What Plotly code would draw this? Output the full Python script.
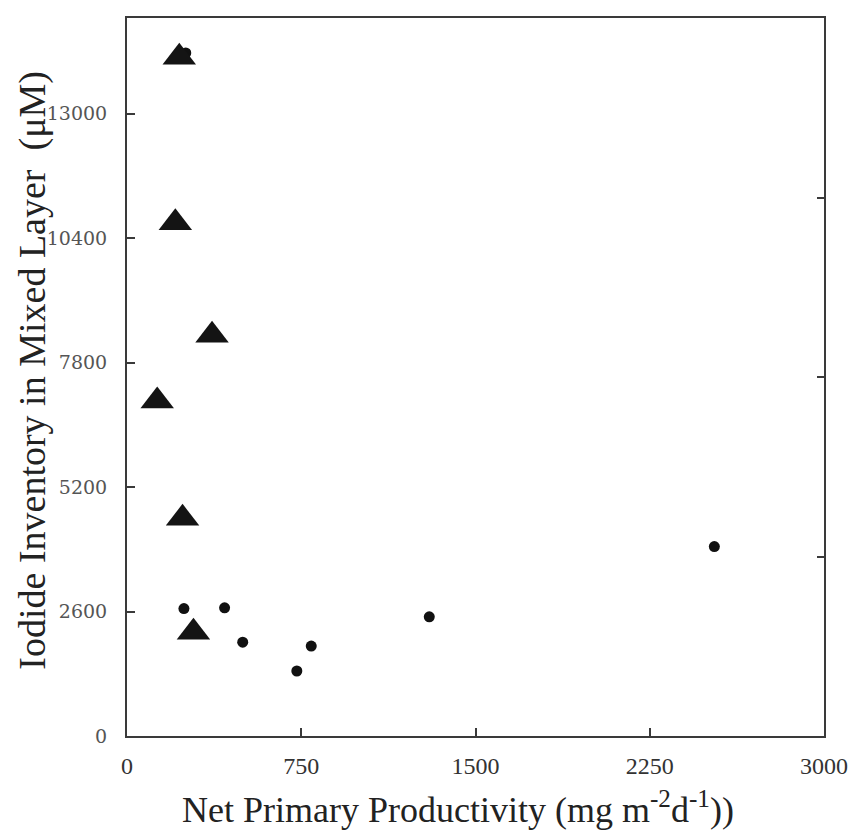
import plotly.graph_objects as go

# Triangles series
tri_x = [225, 208, 366, 130, 239, 286]
tri_y = [14181, 10724, 8374, 7001, 4547, 2165]

# Circles series
circ_x = [253, 245, 420, 498, 731, 793, 1301, 2528]
circ_y = [14269, 2662, 2677, 1961, 1358, 1878, 2490, 3958]

x_ticks = [0, 750, 1500, 2250, 3000]
y_ticks = [0, 2600, 5200, 7800, 10400, 13000]
y2_ticks = [3750, 7500, 11250]

x_title = "Net Primary Productivity (mg m<sup>-2</sup>d<sup>-1</sup>))"
y_title = "Iodide Inventory in Mixed Layer\u00a0\u00a0(\u03bcM)"

line_col = "#3a3a3a"

fig = go.Figure()
fig.add_trace(go.Scatter(
    x=circ_x, y=circ_y, mode="markers",
    marker=dict(symbol="circle", size=11, color="#111111"),
    showlegend=False, hoverinfo="x+y"))
fig.add_trace(go.Scatter(
    x=tri_x, y=tri_y, mode="markers",
    marker=dict(symbol="triangle-up", size=29, color="#141414"),
    showlegend=False, hoverinfo="x+y"))
# secondary axis carrier (invisible)
fig.add_trace(go.Scatter(
    x=circ_x, y=circ_y, mode="markers", yaxis="y2",
    marker=dict(size=1, opacity=0), showlegend=False, hoverinfo="skip"))

fig.update_layout(
    width=848, height=822,
    margin=dict(l=119, r=27, t=8, b=94),
    paper_bgcolor="white", plot_bgcolor="white",
    font=dict(family="Liberation Serif", color="#222"),
    xaxis=dict(
        range=[0, 3000], tickvals=x_ticks, ticktext=[str(v) for v in x_ticks],
        ticks="inside", ticklen=8, tickwidth=2, tickcolor=line_col,
        showline=True, linecolor=line_col, linewidth=2, mirror=True,
        showgrid=False, zeroline=False,
        tickfont=dict(family="Liberation Serif", size=24, color="#333"),
        ticklabelstandoff=7,
    ),
    yaxis=dict(
        range=[0, 15000], tickvals=y_ticks, ticktext=[str(v) for v in y_ticks],
        ticks="inside", ticklen=8, tickwidth=2, tickcolor=line_col,
        showline=True, linecolor=line_col, linewidth=2, mirror=True,
        showgrid=False, zeroline=False,
        tickfont=dict(family="DejaVu Serif", size=19, color="#555"),
        ticklabelstandoff=14,
    ),
    yaxis2=dict(
        range=[0, 15000], overlaying="y", side="right",
        tickvals=y2_ticks, showticklabels=False,
        ticks="inside", ticklen=7, tickwidth=2, tickcolor=line_col,
        showline=False, showgrid=False, zeroline=False,
    ),
    annotations=[
        dict(text=x_title, xref="paper", yref="paper", x=0.475, y=-0.099,
             xanchor="center", yanchor="middle", showarrow=False,
             font=dict(family="Liberation Serif", size=36, color="#222")),
        dict(text=y_title, xref="paper", yref="paper", x=-0.1368, y=0.5097,
             xanchor="center", yanchor="middle", showarrow=False, textangle=-90,
             font=dict(family="Liberation Serif", size=38, color="#222")),
    ],
)

fig.write_html("out.html")
